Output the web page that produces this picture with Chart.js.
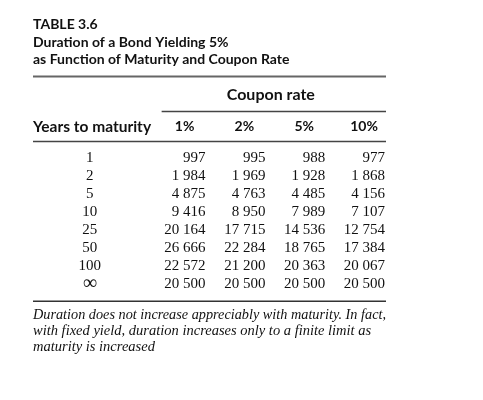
<!DOCTYPE html>
<html>
<head>
<meta charset="utf-8">
<script src="https://cdn.jsdelivr.net/npm/chart.js@4/dist/chart.umd.min.js"></script>
<style>
  body { margin: 0; background: #fff; }
  #wrap { width: 483px; height: 400px; }
</style>
</head>
<body>
<div id="wrap"><canvas id="durationTable"></canvas></div>
<script>
// table contents
const maturities = ['1', '2', '5', '10', '25', '50', '100', '\u221E'];
const couponRates = ['1%', '2%', '5%', '10%'];
const duration1 = [997, 1984, 4875, 9416, 20164, 26666, 22572, 20500];
const duration2 = [995, 1969, 4763, 8950, 17715, 22284, 21200, 20500];
const duration5 = [988, 1928, 4485, 7989, 14536, 18765, 20363, 20500];
const duration10 = [977, 1868, 4156, 7107, 12754, 17384, 20067, 20500];
const titleLines = ['TABLE 3.6', 'Duration of a Bond Yielding 5%', 'as Function of Maturity and Coupon Rate'];
const noteLines = [
  'Duration does not increase appreciably with maturity. In fact,',
  'with fixed yield, duration increases only to a finite limit as',
  'maturity is increased'
];

const allDurations = [duration1, duration2, duration5, duration10];

function fmt(v) {
  let s = String(v);
  if (s.length > 3) s = s.slice(0, s.length - 3) + ' ' + s.slice(-3);
  return s;
}

const sans = 'Lato, "Open Sans", sans-serif';
const serif = '"Liberation Serif", "DejaVu Serif", serif';

// draws the table text and rules, placed with the chart's scales
const tablePlugin = {
  id: 'tablePlugin',
  afterDatasetsDraw(chart) {
    const ctx = chart.ctx;
    const xs = chart.scales.x;
    const ys = chart.scales.y;
    const area = chart.chartArea;
    const top = area.top;

    function rule(y, x0, x1, w, col) {
      ctx.save();
      ctx.strokeStyle = col;
      ctx.lineWidth = w;
      ctx.beginPath();
      ctx.moveTo(x0, y);
      ctx.lineTo(x1, y);
      ctx.stroke();
      ctx.restore();
    }

    const groupLeft = xs.getPixelForValue(0.6);
    rule(top - 73, area.left, area.right, 2, '#666');
    rule(top - 38, groupLeft, area.right, 1.5, '#444');
    rule(top - 8, area.left, area.right, 1.5, '#444');
    rule(area.bottom + 8, area.left, area.right, 1.5, '#333');

    ctx.save();
    ctx.fillStyle = '#111';
    ctx.textBaseline = 'middle';
    ctx.font = 'bold 16px ' + sans;
    ctx.textAlign = 'center';
    ctx.fillText('Coupon rate', (groupLeft + area.right) / 2 - 3, top - 55);

    ctx.font = 'bold 15.5px ' + sans;
    ctx.textAlign = 'left';
    ctx.fillText('Years to maturity', area.left, top - 23);
    ctx.font = 'bold 14px ' + sans;
    ctx.textAlign = 'center';
    couponRates.forEach((c, j) => {
      ctx.fillText(c, xs.getPixelForValue(j + 1) - 1, top - 23);
    });

    // row labels
    maturities.forEach((m, i) => {
      ctx.font = (m === '\u221E' ? '20px ' : '15px ') + serif;
      ctx.fillText(m, xs.getPixelForValue(-0.6), ys.getPixelForValue(i));
    });

    // cells
    ctx.font = '15px ' + serif;
    ctx.textAlign = 'right';
    chart.data.datasets.forEach((ds, j) => {
      const meta = chart.getDatasetMeta(j);
      meta.data.forEach((pt, i) => {
        ctx.fillText(fmt(allDurations[j][i]), pt.x + 20, pt.y);
      });
    });
    ctx.restore();
  }
};

const ctx = document.getElementById('durationTable');
new Chart(ctx, {
  type: 'scatter',
  data: {
    datasets: allDurations.map((arr, j) => ({
      label: couponRates[j],
      data: arr.map((v, i) => ({ x: j + 1, y: maturities[i] })),
      pointRadius: 0,
      pointHoverRadius: 0
    }))
  },
  options: {
    responsive: true,
    maintainAspectRatio: false,
    animation: false,
    layout: { padding: { left: 33, right: 97, top: 0, bottom: 45 } },
    scales: {
      x: { type: 'linear', min: -1.55, max: 4.35, display: false },
      y: { type: 'category', labels: maturities, offset: true, display: false }
    },
    plugins: {
      legend: { display: false },
      tooltip: { enabled: false },
      title: {
        display: true,
        text: titleLines,
        align: 'start',
        color: '#111',
        font: { family: sans, size: 14, weight: 'bold', lineHeight: 1.25 },
        padding: { top: 16, bottom: 81 }
      },
      subtitle: {
        display: true,
        position: 'bottom',
        text: noteLines,
        align: 'start',
        color: '#111',
        font: { family: serif, size: 14.5, style: 'italic', lineHeight: 1.1 },
        padding: { top: 14, bottom: 0 }
      }
    }
  },
  plugins: [tablePlugin]
});
</script>
</body>
</html>
